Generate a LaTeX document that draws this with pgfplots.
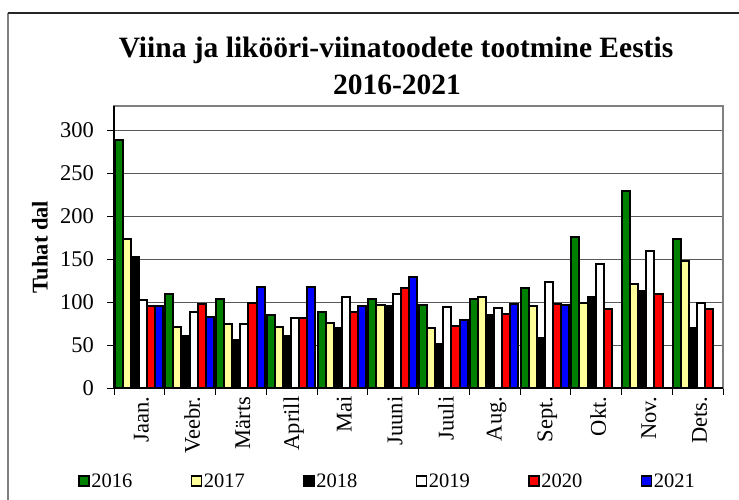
\documentclass[border=0pt]{standalone}
\usepackage{pgfplots}
\usepackage{pgfplotstable}
\pgfplotsset{compat=1.18}
\usepackage{fontspec}
\setmainfont{Liberation Serif}

\definecolor{c16}{RGB}{0,128,0}
\definecolor{c17}{RGB}{255,255,153}
\definecolor{c20}{RGB}{255,0,0}
\definecolor{c21}{RGB}{0,0,255}

\pgfplotstableread{
x a b c d e f
0 289 174 153 102 96 95
1 109 71 61 88 98 83
2 104 75 56 75 99 118
3 85 71 61 81 82 118
4 89 76 70 106 88 95
5 104 97 96 110 116 129
6 97 70 51 94 72 79
7 104 106 85 93 86 98
8 116 96 58 123 98 97
9 176 99 106 144 92 nan
10 230 121 113 160 109 nan
11 174 148 70 99 92 nan
}\datatable

\pgfplotsset{
  mybar/.style={ybar, bar width=0.16, draw=black, line width=2pt,
    legend image code/.code={\draw[##1, line width=1.6pt] (0pt,-5pt) rectangle (10pt,5pt);}},
}

\begin{document}
\begin{tikzpicture}
\path[use as bounding box] (0pt,0pt) rectangle (739pt,-500pt);
\draw[gray, line width=1.2pt] (8pt,-500pt) -- (8pt,-13pt);
\draw[black!85, line width=1.2pt] (8pt,-13pt) -- (739pt,-13pt);
\node[anchor=base, font=\fontsize{29.5}{36}\selectfont\bfseries] at (396pt,-58pt) {Viina ja likööri-viinatoodete tootmine Eestis};
\node[anchor=base, font=\fontsize{29.5}{36}\selectfont\bfseries] at (397pt,-95pt) {2016-2021};
\begin{axis}[
  at={(114pt,-388pt)}, anchor=south west,
  scale only axis, width=609pt, height=282pt,
  xmin=-0.5, xmax=11.5, ymin=0, ymax=328.5,
  xtick={-0.5,0.5,...,11.5},
  x tick label as interval,
  xticklabels={Jaan.,Veebr.,Märts,Aprill,Mai,Juuni,Juuli,Aug.,Sept.,Okt.,Nov.,Dets.},
  xticklabel style={rotate=90, anchor=east, font=\fontsize{22.5}{24}\selectfont, inner sep=2pt, yshift=-2pt},
  ytick={0,50,...,300},
  yticklabel style={font=\fontsize{22.5}{24}\selectfont, xshift=-10pt},
  /pgf/number format/assume math mode=true,
  ymajorgrids, grid style={black!65, line width=1pt},
  tick align=outside, major tick length=6.5pt, tick pos=left,
  tick style={black, line width=0.8pt},
  axis line style={gray, line width=1.2pt},
  ylabel={Tuhat dal},
  every axis y label/.style={at={(axis description cs:-0.1215,0.5)}, rotate=90, anchor=center,
     font=\fontsize{22.5}{24}\selectfont\bfseries},
  legend columns=6,
  legend style={draw=none, fill=none, at={(axis description cs:-0.0591,-0.33)}, anchor=west,
     inner sep=0pt, font=\fontsize{20.5}{24}\selectfont,
     nodes={inner sep=1.5pt},
     /tikz/every even column/.append style={column sep=56.9pt}},
]
\addplot[mybar, fill=c16, bar shift=-0.41] table[x=x,y=a] {\datatable};
\addplot[mybar, fill=c17, bar shift=-0.25] table[x=x,y=b] {\datatable};
\addplot[mybar, fill=black, bar shift=-0.09] table[x=x,y=c] {\datatable};
\addplot[mybar, fill=white, bar shift=0.07] table[x=x,y=d] {\datatable};
\addplot[mybar, fill=c20, bar shift=0.23] table[x=x,y=e] {\datatable};
\addplot[mybar, fill=c21, bar shift=0.39] table[x=x,y=f] {\datatable};
\legend{2016,2017,2018,2019,2020,2021}
\end{axis}
\draw[black, line width=1.2pt] (114pt,-106pt) -- (114pt,-388pt) -- (723pt,-388pt);
\end{tikzpicture}
\end{document}
